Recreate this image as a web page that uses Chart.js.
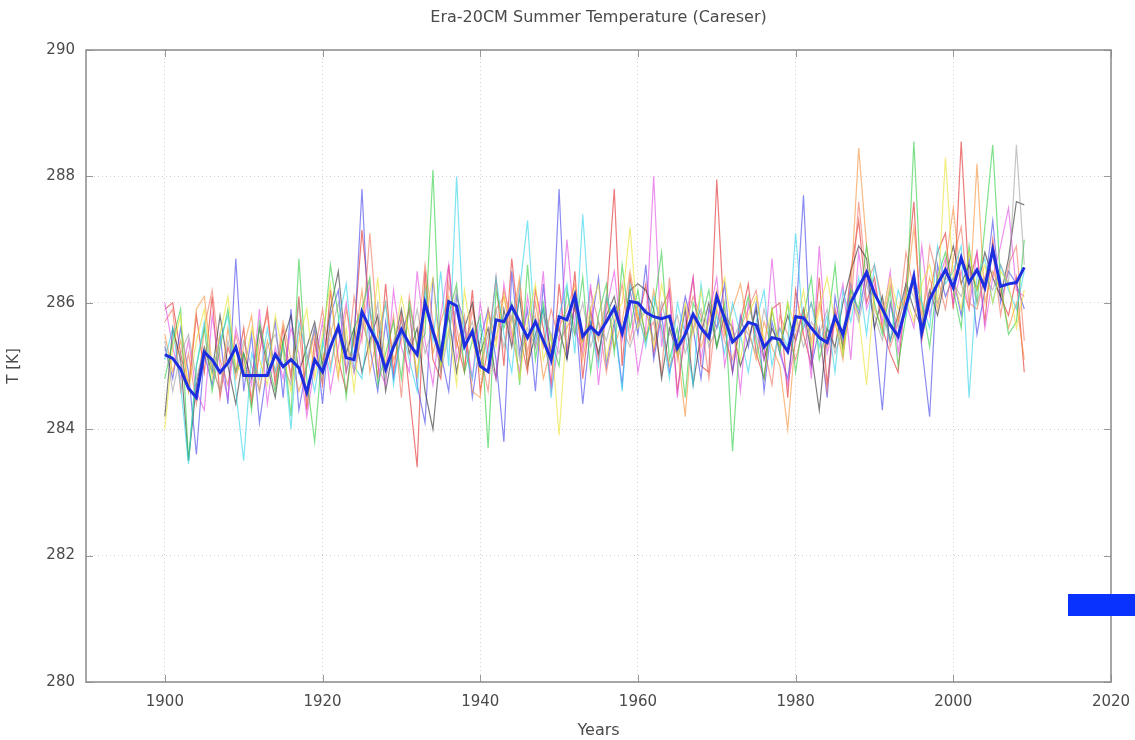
<!DOCTYPE html>
<html>
<head>
<meta charset="utf-8">
<title>Era-20CM Summer Temperature (Careser)</title>
<script src="https://cdn.jsdelivr.net/npm/chart.js@4.4.1/dist/chart.umd.min.js"></script>
<style>
  html, body { margin: 0; padding: 0; background: #fff; }
  #wrap { width: 1135px; height: 740px; position: relative; }
</style>
</head>
<body>
<div id="wrap"><canvas id="chart" width="1135" height="740"></canvas></div>
<script>
const chartTitle = 'Era-20CM Summer Temperature (Careser)';
const xTicks = [1900, 1920, 1940, 1960, 1980, 2000, 2020];
const yTicks = [280, 282, 284, 286, 288, 290];
const firstYear = 1900;

// ensemble mean (thick blue)
const meanT = [
  285.18, 285.12, 284.95, 284.65, 284.50, 285.22, 285.10, 284.90, 285.05, 285.30,
  284.85, 284.85, 284.85, 284.85, 285.18, 284.99, 285.10, 284.97, 284.58, 285.10,
  284.91, 285.30, 285.62, 285.13, 285.10, 285.86, 285.60, 285.35, 284.95, 285.30,
  285.58, 285.35, 285.18, 286.00, 285.55, 285.15, 286.02, 285.95, 285.31, 285.55,
  285.00, 284.91, 285.73, 285.70, 285.94, 285.70, 285.45, 285.70, 285.40, 285.10,
  285.78, 285.73, 286.12, 285.47, 285.62, 285.50, 285.70, 285.92, 285.52, 286.02,
  286.00, 285.85, 285.78, 285.75, 285.79, 285.28, 285.50, 285.82, 285.60, 285.45,
  286.10, 285.75, 285.38, 285.50, 285.69, 285.65, 285.30, 285.45, 285.42, 285.23,
  285.78, 285.76, 285.60, 285.45, 285.37, 285.78, 285.50, 286.00, 286.25, 286.48,
  286.15, 285.90, 285.65, 285.47, 285.95, 286.41, 285.53, 286.05, 286.30, 286.52,
  286.24, 286.71, 286.32, 286.52, 286.24, 286.84, 286.26, 286.30, 286.32, 286.56
];

// ensemble members (thin lines)
const memberRed = [
  285.9, 286.0, 285.2, 284.6, 285.8, 284.9, 286.1, 284.5, 285.3, 284.9,
  285.6, 284.4, 285.2, 285.9, 284.7, 285.6, 284.8, 286.1, 284.3, 285.4,
  284.7, 286.2, 285.1, 284.6, 285.5, 287.15, 285.9, 284.8, 286.3, 284.9,
  285.8, 284.6, 283.4, 286.5, 285.1, 284.8, 286.6, 285.4, 284.9, 286.2,
  284.6, 285.3, 286.4, 285.0, 286.7, 285.5, 284.9, 286.2, 285.6, 284.7,
  286.3, 285.2, 286.5, 284.8, 285.9, 285.1, 286.0, 287.8, 285.0, 286.4,
  285.7, 286.3, 285.2, 285.9, 286.2, 284.6, 285.5, 286.4, 285.0, 284.9,
  287.95, 285.6, 284.9, 285.7, 286.3, 285.2, 284.8, 285.9, 286.0, 284.5,
  286.2, 285.5, 285.0, 286.4, 284.7, 285.9, 285.3, 286.5, 287.3, 286.0,
  286.4, 285.6, 285.2, 284.9, 286.3, 287.6, 285.4, 286.1, 286.8, 287.1,
  285.9, 288.55, 286.3, 286.8, 285.7, 287.0, 286.1, 285.8, 286.4, 284.9
];
const memberGreen = [
  284.8, 285.4, 285.9, 283.5, 285.0, 285.6, 284.6, 285.3, 285.9, 284.9,
  285.2, 284.3, 285.7, 285.1, 284.6, 285.4, 284.2, 286.7, 284.8, 283.8,
  285.3, 286.6, 285.8, 284.5, 285.6, 285.9, 286.4, 284.7, 285.2, 285.7,
  284.8, 286.0, 285.3, 285.5, 288.1, 285.0, 285.8, 286.3, 284.9, 285.4,
  285.8, 283.7, 286.2, 285.6, 286.0, 284.7, 286.6, 285.1, 286.0, 285.4,
  285.0, 286.2, 285.5, 286.4, 284.9, 285.8, 286.3, 285.2, 286.6, 285.6,
  286.2, 285.4, 285.9, 286.8, 285.1, 285.6, 284.5, 286.0, 285.7, 286.2,
  285.3, 286.0, 283.65, 285.6, 286.1, 285.4, 284.8, 285.9, 285.2, 286.0,
  284.9, 285.8, 286.4, 285.1, 285.6, 286.6, 285.2, 286.2, 285.9, 286.9,
  286.0, 285.5, 286.2, 285.0, 285.8, 288.55, 286.0, 285.3, 286.4, 286.8,
  286.2, 285.6, 286.9, 286.0, 287.2, 288.5, 286.3, 285.5, 285.7, 287.0
];
const memberBlue = [
  285.3, 284.8, 285.6, 284.9, 283.6, 285.2, 284.7, 285.5, 284.4, 286.7,
  284.6, 285.5, 284.1, 285.0, 285.7, 284.5, 285.9, 284.3, 285.0, 285.6,
  284.4, 285.8, 286.2, 284.9, 285.4, 287.8, 285.3, 284.6, 285.7, 284.8,
  285.5, 285.9, 284.7, 284.1, 286.4, 285.2, 284.6, 286.1, 285.7, 284.5,
  285.4, 285.9, 285.1, 283.8, 286.5, 285.2, 285.9, 284.6, 286.3, 285.0,
  287.8, 285.1, 286.0, 284.4, 285.6, 286.4, 285.0, 285.7, 284.7, 286.2,
  285.5, 286.6, 285.1, 285.8, 284.9, 285.4, 286.1, 285.6, 284.8, 285.9,
  285.6, 286.3, 284.9, 285.8, 285.3, 286.0, 284.6, 285.7, 285.2, 284.8,
  285.7, 287.7, 285.0, 285.6, 284.5, 286.1, 285.4, 286.3, 285.8, 286.5,
  285.6, 284.3, 286.0, 285.4, 285.9, 286.5, 285.3, 284.2, 286.6, 286.1,
  286.4, 285.8, 286.7, 285.5, 286.2, 287.3, 286.0, 286.5, 286.3, 285.9
];
const memberMagenta = [
  286.0, 285.3, 284.8, 285.4, 284.6, 284.3, 285.8, 285.0, 284.5, 285.6,
  285.1, 284.7, 285.9, 284.4, 285.3, 284.8, 285.6, 285.2, 284.2, 285.0,
  285.7, 284.6, 285.3, 286.0, 284.9, 285.5, 286.3, 285.0, 284.7, 286.2,
  285.3, 284.9, 286.5, 285.4, 284.7, 285.8, 286.6, 285.1, 285.6, 284.8,
  286.0, 285.2, 284.8, 286.3, 285.5, 284.9, 286.1, 285.3, 286.5, 284.6,
  285.4, 287.0, 285.6, 285.2, 286.3, 284.7, 285.9, 286.5, 285.4, 286.0,
  284.9, 285.6, 288.0, 285.3, 286.2, 284.5, 285.7, 286.4, 285.1, 285.8,
  286.4, 285.0, 285.7, 284.6, 286.0, 285.5, 285.1, 286.7, 285.3, 284.7,
  285.4, 285.9, 284.8, 286.9, 285.2, 285.7, 286.3, 285.1, 286.8, 285.9,
  286.3, 285.7, 286.5, 285.2, 286.0, 285.6, 286.9, 285.8, 286.3, 286.7,
  286.0, 286.5, 285.9, 286.8, 285.6, 286.4, 286.9, 287.5, 286.2, 286.1
];
const memberCyan = [
  285.1, 285.6, 284.7, 283.45, 285.0, 285.7, 284.9, 285.4, 285.8, 284.6,
  283.5, 285.2, 284.8, 285.6, 284.9, 285.3, 284.0, 285.7, 285.2, 284.6,
  285.4, 284.9, 285.7, 286.3, 285.0, 284.8, 285.9, 285.3, 286.0, 284.7,
  285.6, 285.1, 284.6, 286.2, 285.4, 286.5, 285.0, 288.0, 285.3, 284.8,
  285.7, 285.1, 286.4, 285.5, 284.9, 286.2, 287.3, 285.4, 285.9, 284.5,
  285.8, 286.3, 285.2, 287.4, 285.6, 285.0, 286.1, 285.7, 284.6, 286.3,
  285.9, 285.3, 286.1, 285.6, 284.8, 286.0, 285.5, 284.7, 286.3, 285.4,
  285.8, 285.2, 286.0, 285.5, 284.9, 285.7, 286.2, 285.0, 285.6, 285.3,
  287.1, 285.6, 286.0, 285.3, 285.8, 284.9, 286.2, 285.7, 286.4, 285.5,
  286.6, 285.9, 285.4, 286.2, 285.8, 286.4, 286.0, 285.6, 286.9, 286.3,
  286.5, 286.9, 284.5, 286.4, 286.7, 286.0, 286.6, 286.2, 285.9, 286.5
];
const memberYellow = [
  284.0, 285.3, 285.8, 284.6, 285.4, 285.9, 284.8, 285.5, 286.1, 285.0,
  284.9, 285.6, 285.1, 284.7, 285.8, 285.2, 284.6, 285.4, 285.9, 284.8,
  285.5, 286.3, 284.9, 285.6, 284.6, 285.8, 285.2, 286.4, 285.0, 285.3,
  286.1, 285.5, 284.9, 285.8, 286.4, 285.0, 285.6, 284.7, 286.2, 285.4,
  284.9, 285.8, 285.3, 286.1, 285.6, 284.8, 285.7, 286.3, 285.1, 285.5,
  283.9, 285.7, 286.2, 285.4, 285.9, 286.3, 285.1, 285.8, 286.0, 287.2,
  285.6, 285.9, 285.3, 286.3, 285.7, 285.2, 286.0, 285.5, 286.2, 285.4,
  285.9, 286.4, 285.5, 285.1, 285.8, 286.1, 285.4, 285.9, 285.3, 286.0,
  285.6, 286.2, 285.3, 285.9, 286.4, 285.7, 285.2, 286.1, 285.8, 284.7,
  286.2, 285.8, 286.4, 285.9, 286.1, 285.7, 286.3, 286.6, 286.0, 288.3,
  286.4, 285.9, 286.8, 286.2, 286.6, 286.0, 286.5, 286.3, 285.6, 286.2
];
const memberBlack = [
  284.2, 285.6, 285.1, 283.5, 284.7, 285.3, 284.9, 285.8, 285.0, 284.4,
  285.2, 284.8, 285.6, 285.0, 284.5, 285.4, 285.8, 284.9, 285.3, 285.7,
  285.0, 285.9, 286.5, 285.2, 285.6, 284.9, 285.4, 285.8, 284.6, 285.3,
  285.9, 285.2, 285.6, 284.6, 284.0, 285.3, 285.8, 284.9, 285.6, 286.0,
  285.2, 285.6, 284.8, 285.9, 285.3, 286.1, 285.0, 285.5, 285.9, 285.2,
  285.6, 285.1, 286.0, 285.4, 285.7, 285.2, 285.8, 286.1, 285.5, 286.2,
  286.3, 286.2, 285.9, 284.8, 285.6, 285.2, 285.9, 284.7, 285.5, 286.0,
  285.3, 285.8, 285.6, 285.0, 285.4, 285.9, 285.1, 285.6, 285.3, 285.8,
  285.4, 285.9, 285.2, 284.3, 285.6, 285.3, 286.0, 286.5, 286.9, 286.7,
  285.6, 286.1, 285.4, 285.8, 286.3, 285.9, 285.6, 286.2, 285.8, 286.4,
  286.9, 286.3, 286.6, 286.2, 286.8, 286.4, 286.1, 286.7, 287.6, 287.55
];
const memberOrange = [
  285.5, 284.9, 285.4, 284.7, 285.9, 286.1, 285.0, 284.6, 285.6, 284.8,
  285.3, 285.8, 284.6, 285.4, 284.9, 285.7, 285.1, 284.6, 285.0, 285.5,
  285.1, 285.6, 284.8, 285.9, 285.3, 286.2, 284.9, 285.5, 286.0, 285.1,
  285.4, 285.9, 284.8, 286.3, 285.2, 285.7, 286.1, 285.3, 285.8, 284.6,
  284.5, 285.9, 285.4, 286.2, 285.7, 286.4, 285.0, 285.8, 284.8, 285.3,
  285.6, 285.9, 286.3, 285.1, 285.8, 285.4, 286.1, 285.3, 285.7, 286.5,
  285.8, 285.4, 286.2, 285.6, 285.0, 285.3, 284.2, 285.8, 285.3, 285.7,
  286.2, 285.5, 285.9, 286.3, 285.6, 285.1, 285.7, 285.3, 285.0, 284.0,
  285.5, 285.9, 285.4, 286.0, 285.3, 285.7, 285.1, 286.2, 288.45, 286.9,
  285.9, 285.6, 286.3, 285.7, 286.1, 287.2, 285.8, 286.4, 285.9, 286.6,
  287.5, 286.3, 285.9, 288.2, 286.0, 286.5, 286.2, 285.6, 286.0, 285.1
];
const memberSalmon = [
  285.7, 285.9, 284.6, 285.2, 284.4, 285.6, 286.2, 285.1, 284.7, 285.5,
  285.0, 284.5, 285.4, 285.8, 284.8, 285.3, 284.9, 285.6, 284.4, 285.2,
  285.9, 285.0, 285.6, 284.9, 286.1, 285.4, 287.1, 285.5, 285.0, 285.8,
  284.5, 286.1, 285.3, 286.6, 285.7, 284.9, 286.3, 285.6, 285.0, 285.9,
  285.2, 284.6, 285.9, 286.1, 285.4, 286.3, 285.2, 286.0, 285.3, 285.9,
  285.4, 285.6, 285.9, 285.3, 286.2, 285.7, 284.9, 285.6, 286.3, 285.4,
  286.0, 285.5, 285.7, 284.9, 286.4, 285.1, 285.6, 286.1, 285.8, 284.8,
  285.9, 285.4, 285.1, 285.6, 285.9, 286.2, 285.3, 284.7, 285.8, 285.5,
  285.1, 285.6, 286.0, 285.5, 284.6, 285.8, 285.3, 285.9, 287.6, 286.3,
  286.6, 286.0, 285.3, 285.7, 286.8, 286.2, 285.6, 286.9, 286.4, 285.9,
  286.7, 287.2, 286.0, 285.9, 286.4, 286.8, 285.8, 286.6, 286.9, 285.4
];
const memberGray = [
  285.4, 284.6, 285.2, 285.5, 284.8, 285.3, 285.0, 284.6, 285.4, 284.9,
  285.4, 285.0, 284.6, 285.3, 285.5, 285.0, 284.7, 286.0, 285.1, 285.6,
  284.8, 285.5, 286.0, 285.4, 284.9, 285.7, 285.3, 286.0, 284.8, 285.4,
  285.7, 285.3, 285.9, 285.2, 285.6, 284.9, 285.5, 286.2, 285.4, 285.7,
  285.0, 285.5, 285.9, 285.3, 285.8, 285.1, 285.6, 285.3, 285.8, 285.5,
  285.2, 285.8, 285.5, 286.0, 285.3, 285.7, 285.4, 285.9, 285.6, 285.3,
  285.7, 285.9, 285.4, 286.0, 285.5, 285.8, 285.2, 285.6, 285.9, 285.3,
  285.6, 285.9, 285.4, 285.7, 285.5, 285.2, 285.9, 285.4, 285.6, 285.2,
  285.8, 285.3, 285.7, 285.5, 285.9, 285.2, 285.6, 286.1, 285.7, 286.3,
  285.8, 285.4, 286.0, 285.6, 286.3, 286.1, 285.7, 286.2, 286.0, 286.4,
  286.3, 286.1, 286.5, 286.0, 286.4, 286.2, 286.6, 286.3, 288.5, 286.6
];

const members = [
  { data: memberGray,    color: 'rgba(150,150,150,0.55)' },
  { data: memberYellow,  color: 'rgba(235,225,40,0.6)' },
  { data: memberCyan,    color: 'rgba(40,210,235,0.6)' },
  { data: memberGreen,   color: 'rgba(40,205,60,0.6)' },
  { data: memberOrange,  color: 'rgba(245,140,50,0.6)' },
  { data: memberMagenta, color: 'rgba(225,70,225,0.6)' },
  { data: memberBlack,   color: 'rgba(40,40,40,0.6)' },
  { data: memberSalmon,  color: 'rgba(240,110,90,0.6)' },
  { data: memberBlue,    color: 'rgba(60,60,235,0.6)' },
  { data: memberRed,     color: 'rgba(225,35,35,0.6)' }
];

const toPoints = arr => arr.map((v, i) => ({ x: firstYear + i, y: v }));

const datasets = members.map(m => ({
  data: toPoints(m.data),
  borderColor: m.color,
  borderWidth: 1.2,
  pointRadius: 0,
  tension: 0,
  order: 2
}));
datasets.push({
  label: 'mean',
  data: toPoints(meanT),
  borderColor: '#1c2ee0',
  borderWidth: 3,
  pointRadius: 0,
  tension: 0,
  order: 1
});

const textColor = '#4a4a4a';
const fontFamily = '"DejaVu Sans", sans-serif';

// title centred over the plot area (gnuplot style)
const titlePlugin = {
  id: 'plotTitle',
  afterDraw(chart) {
    const { ctx, chartArea: a } = chart;
    ctx.save();
    ctx.fillStyle = textColor;
    ctx.font = '16px ' + fontFamily;
    ctx.textAlign = 'center';
    ctx.textBaseline = 'middle';
    ctx.fillText(chartTitle, (a.left + a.right) / 2, a.top - 32);
    ctx.restore();
  }
};

// frame with inward ticks, plus the clipped legend swatch
const framePlugin = {
  id: 'frame',
  afterDraw(chart) {
    const { ctx, chartArea: a, scales } = chart;
    ctx.save();
    ctx.strokeStyle = '#9a9a9a';
    ctx.lineWidth = 1;
    const t = 7;
    xTicks.forEach(v => {
      const px = Math.round(scales.x.getPixelForValue(v)) + 0.5;
      ctx.beginPath();
      ctx.moveTo(px, a.bottom); ctx.lineTo(px, a.bottom - t);
      ctx.moveTo(px, a.top); ctx.lineTo(px, a.top + t);
      ctx.stroke();
    });
    yTicks.forEach(v => {
      const py = Math.round(scales.y.getPixelForValue(v)) + 0.5;
      ctx.beginPath();
      ctx.moveTo(a.left, py); ctx.lineTo(a.left + t, py);
      ctx.moveTo(a.right, py); ctx.lineTo(a.right - t, py);
      ctx.stroke();
    });
    ctx.strokeStyle = '#8a8a8a';
    ctx.lineWidth = 1.5;
    ctx.strokeRect(a.left, a.top, a.right - a.left, a.bottom - a.top);
    // legend swatch, cut off at the right edge as in the original
    ctx.fillStyle = '#0a32ff';
    ctx.fillRect(a.right - 43, a.top + 544, 80, 22);
    ctx.restore();
  }
};

new Chart(document.getElementById('chart'), {
  type: 'line',
  data: { datasets },
  plugins: [titlePlugin, framePlugin],
  options: {
    responsive: false,
    animation: false,
    devicePixelRatio: 1,
    layout: { padding: { left: 0, right: 24, top: 50, bottom: 0 } },
    plugins: {
      legend: { display: false },
      tooltip: { enabled: false },
      title: { display: false }
    },
    scales: {
      x: {
        type: 'linear',
        min: 1890,
        max: 2020,
        afterBuildTicks: s => { s.ticks = xTicks.map(v => ({ value: v })); },
        afterFit: s => { s.height = 58; s.paddingLeft = 0; s.paddingRight = 0; },
        ticks: {
          color: textColor,
          font: { family: fontFamily, size: 15 },
          padding: 11,
          maxRotation: 0,
          callback: v => String(v)
        },
        grid: { color: 'rgba(0,0,0,0.18)', drawTicks: false, lineWidth: 1 },
        border: { display: false, dash: [1, 3] },
        title: {
          display: true,
          text: 'Years',
          color: textColor,
          font: { family: fontFamily, size: 16 },
          padding: { top: 0, bottom: 0 }
        }
      },
      y: {
        type: 'linear',
        min: 280,
        max: 290,
        afterBuildTicks: s => { s.ticks = yTicks.map(v => ({ value: v })); },
        afterFit: s => { s.width = 86; s.paddingTop = 0; s.paddingBottom = 0; },
        ticks: {
          color: textColor,
          font: { family: fontFamily, size: 15 },
          padding: 11,
          callback: v => String(v)
        },
        grid: { color: 'rgba(0,0,0,0.18)', drawTicks: false, lineWidth: 1 },
        border: { display: false, dash: [1, 3] },
        title: {
          display: true,
          text: 'T [K]',
          color: textColor,
          font: { family: fontFamily, size: 15 },
          padding: { top: 5, bottom: 0 }
        }
      }
    }
  }
});
</script>
</body>
</html>
